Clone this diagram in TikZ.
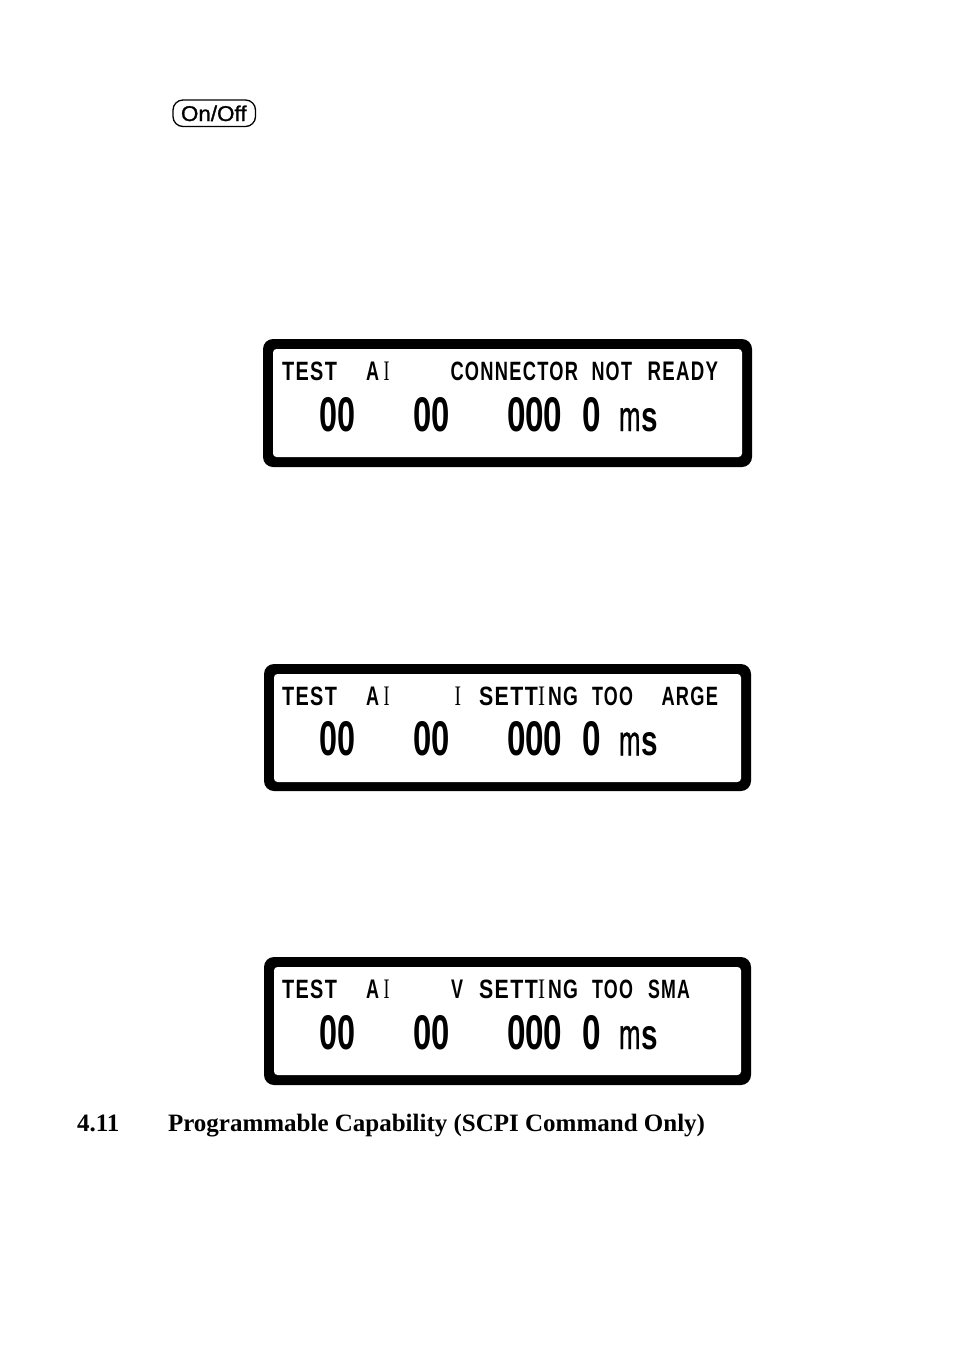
\documentclass[tikz,border=0pt]{standalone}
\usepackage{fontspec}
\usepackage{graphicx}
\setmainfont{Liberation Serif}
\newfontfamily\lcdsans{Liberation Sans}
\newfontfamily\lcdwide[LetterSpace=7]{Liberation Sans}
\newfontfamily\keyfont[FakeBold=1.2]{Liberation Sans}
\newfontfamily\unitfont[FakeBold=1]{Liberation Sans}
\newcounter{tx}
\newcommand{\lcdtext}[5]{% x0 x1 baseline height text
  \stepcounter{tx}%
  \node[lcd] (t\arabic{tx}) at (#1,#3) {\resizebox{\dimexpr #2pt-#1pt\relax}{#4pt}{#5}};}
\newcommand{\lcdpanel}[6]{% left right top innertop innerbottom bottom
  \fill[black,rounded corners=10pt] (#1,#3) rectangle (#2,#6);
  \fill[white,rounded corners=3.5pt] (#1+10,#4) rectangle (#2-10,#5);}
\newcommand{\lsb}[1]{{\lcdwide\bfseries #1}}
\newcommand{\lsd}[1]{{\lcdsans\bfseries #1}}
\newcommand{\lsr}[1]{{\rmfamily #1}}
\newcommand{\digitrow}[2]{% baseline height
  \lcdtext{319.5}{355.5}{#1}{#2}{\lsd{00}}
  \lcdtext{413}{449.5}{#1}{#2}{\lsd{00}}
  \lcdtext{507}{562.5}{#1}{#2}{\lsd{000}}
  \lcdtext{582.5}{601}{#1}{#2}{\lsd{0}}
  \lcdtext{619}{640.5}{#1}{23}{{\unitfont m}}
  \lcdtext{641}{657.5}{#1}{23}{\lsd{s}}}
\newcommand{\testai}[2]{% baseline height
  \lcdtext{282}{337}{#1}{#2}{\lsb{TEST}}
  \lcdtext{366}{379}{#1}{#2}{\lsd{A}}
  \lcdtext{383.5}{389.5}{#1}{#2}{\lsr{I}}}
\begin{document}
\begin{tikzpicture}[x=1pt,y=-1pt,
  lcd/.style={inner sep=0pt,outer sep=0pt,anchor=base west},
  keycap/.style={draw=black,line width=1.3pt,rounded corners=10pt,fill=white},
  heading/.style={inner sep=0pt,outer sep=0pt,anchor=base west,font=\fontsize{25}{29}\selectfont\bfseries}]
\useasboundingbox[fill=white] (0,0) rectangle (954,1354);
% key
\draw[keycap] (173,100) rectangle (255.5,126.5);
\node[lcd] (onoff) at (181,121) {\resizebox{65.5pt}{15.5pt}{\keyfont On/Off}};
% panel 1
\lcdpanel{263}{752}{339}{349}{457}{467}
\testai{380.5}{18.5}
\lcdtext{450.5}{578}{380.5}{18.5}{\lsb{CONNECTOR}}
\lcdtext{591.5}{632}{380.5}{18.5}{\lsb{NOT}}
\lcdtext{647.5}{718}{380.5}{18.5}{\lsb{READY}}
\digitrow{431}{34}
% panel 2
\lcdpanel{264}{751}{664}{674}{782}{791}
\testai{705}{18.5}
\lcdtext{454.5}{461}{705}{18.5}{\lsr{I}}
\lcdtext{479}{538}{705}{18.5}{\lsb{SETT}}
\lcdtext{538}{545}{705}{18.5}{\lsr{I}}
\lcdtext{548}{578}{705}{18.5}{\lsb{NG}}
\lcdtext{592}{633}{705}{18.5}{\lsb{TOO}}
\lcdtext{661.5}{718}{705}{18.5}{\lsb{ARGE}}
\digitrow{755.5}{34}
% panel 3
\lcdpanel{264}{751}{957}{967}{1075}{1085}
\testai{998}{18.5}
\lcdtext{451}{463}{998}{18.5}{\lsd{V}}
\lcdtext{479}{538}{998}{18.5}{\lsb{SETT}}
\lcdtext{538}{545}{998}{18.5}{\lsr{I}}
\lcdtext{548}{578}{998}{18.5}{\lsb{NG}}
\lcdtext{592}{633}{998}{18.5}{\lsb{TOO}}
\lcdtext{648}{690}{998}{18.5}{\lsb{SMA}}
\digitrow{1049}{34}
% heading
\node[heading] (secnum) at (77,1131) {4.11};
\node[heading] (sectitle) at (168,1131) {Programmable Capability (SCPI Command Only)};
\end{tikzpicture}
\end{document}
